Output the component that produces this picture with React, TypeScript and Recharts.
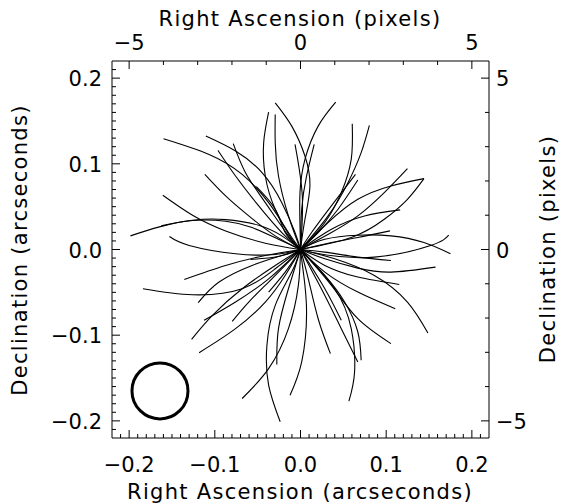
import React from 'react';
import { LineChart, Line, XAxis, YAxis, ReferenceDot } from 'recharts';

// curve points in arcseconds, ordered from the centre outwards (centre added below)
const upperLeft: number[][][] = [
  [[-0.0218, 0.0159], [-0.0488, 0.0283], [-0.0874, 0.0349], [-0.126, 0.0342], [-0.1646, 0.0264], [-0.1985, 0.0159]],
  [[-0.0257, 0.012], [-0.0565, 0.0256], [-0.0874, 0.033], [-0.126, 0.0338], [-0.1626, 0.0276]],
  [[-0.0295, -0.0058], [-0.0758, -0.005], [-0.1299, 0.0047], [-0.153, 0.0151]],
  [[-0.026, -0.0082], [-0.0584, -0.0116]],
  [[-0.0411, 0.0074], [-0.0874, 0.0217], [-0.126, 0.04], [-0.1607, 0.0633]],
  [[-0.0295, 0.0159], [-0.0604, 0.0392], [-0.0874, 0.0625], [-0.1117, 0.0877]],
  [[-0.0141, 0.0198], [-0.0372, 0.0547], [-0.0681, 0.0877], [-0.1067, 0.111], [-0.1599, 0.1293]],
  [[-0.0064, 0.0198], [-0.0218, 0.0547], [-0.0449, 0.0897], [-0.0758, 0.1149], [-0.1105, 0.1324]],
  [[-0.0218, 0.0198], [-0.0488, 0.0509], [-0.0758, 0.0858], [-0.0963, 0.1157]],
  [[-0.0141, 0.0159], [-0.0411, 0.0547], [-0.0642, 0.0897], [-0.0785, 0.1235]],
  [[-0.0179, 0.0198], [-0.0295, 0.047], [-0.0515, 0.0734]],
  [[-0.0102, 0.012], [-0.0295, 0.047], [-0.0411, 0.0858], [-0.043, 0.1246], [-0.0372, 0.1604]],
  [[-0.0141, 0.0392], [-0.0257, 0.0858], [-0.0295, 0.1246], [-0.0295, 0.1576]],
  [[0.0052, 0.0353], [0.011, 0.0742], [0.0052, 0.1091], [-0.0102, 0.144], [-0.0295, 0.1712]],
  [[0.0021, 0.0625], [-0.0064, 0.1227]],
];

const upperRight: number[][][] = [
  [[0.0014, 0.047], [0.0071, 0.0858], [0.016, 0.1227]],
  [[-0.0006, 0.0276], [-0.0006, 0.0664], [0.0052, 0.1052], [0.0206, 0.144], [0.0411, 0.172]],
  [[0.0284, 0.0315], [0.0476, 0.0664], [0.0592, 0.1052], [0.0604, 0.1468]],
  [[0.0322, 0.0392], [0.0554, 0.078], [0.0708, 0.113], [0.0804, 0.1448]],
  [[0.0129, 0.0198], [0.036, 0.0509], [0.0642, 0.0877]],
  [[0.0206, 0.0198], [0.0438, 0.047], [0.0669, 0.0811]],
  [[0.0361, 0.0198], [0.0669, 0.0392], [0.0978, 0.0664], [0.1248, 0.0943]],
  [[0.0322, 0.0315], [0.0669, 0.0586], [0.1055, 0.0742], [0.1441, 0.0827]],
  [[0.0592, 0.014], [0.0978, 0.0353], [0.1248, 0.0586], [0.1441, 0.0827]],
  [[0.0361, 0.0237], [0.0747, 0.0392], [0.1163, 0.0462]],
  [[0.0361, 0.0082], [0.0669, 0.014], [0.1044, 0.0217]],
  [[0.0284, 0.012], [0.0669, 0.0167], [0.1055, 0.0159], [0.1441, 0.0082], [0.175, -0.005]],
  [[0.0284, -0.0062], [0.0862, -0.0089], [0.1518, 0.0047], [0.173, 0.0167]],
];

const lowerRight: number[][][] = [
  [[0.0284, -0.0031], [0.0669, -0.0089], [0.1055, -0.0128]],
  [[0.0284, -0.0109], [0.0669, -0.0217], [0.1055, -0.0264], [0.1576, -0.0206]],
  [[0.0284, -0.0186], [0.0669, -0.0322], [0.1152, -0.0408]],
  [[0.0284, -0.0264], [0.0669, -0.0497], [0.1106, -0.0691]],
  [[0.0399, -0.0109], [0.0862, -0.0303], [0.1248, -0.0613], [0.1487, -0.0975]],
  [[0.0361, -0.0419], [0.0669, -0.0808], [0.1055, -0.1099]],
  [[0.0284, -0.0458], [0.0476, -0.0827]],
  [[0.0091, -0.0342], [0.0206, -0.0808], [0.0349, -0.1215]],
  [[0.0284, -0.0536], [0.0476, -0.0924], [0.0669, -0.1312]],
  [[0.0284, -0.0303], [0.0515, -0.0613], [0.0669, -0.0963], [0.0708, -0.1293]],
  [[0.0399, -0.0458], [0.0592, -0.0924], [0.0631, -0.1429], [0.0565, -0.177]],
  [[0.0033, -0.0264], [0.0071, -0.073], [0.0014, -0.1312], [-0.0122, -0.1701]],
];

const lowerLeft: number[][][] = [
  [[-0.0102, -0.0264], [-0.0295, -0.0652], [-0.0392, -0.1118], [-0.0372, -0.1584], [-0.0237, -0.2011]],
  [[-0.0141, -0.0458], [-0.0257, -0.0924], [-0.0276, -0.1343]],
  [[-0.0025, -0.0419], [-0.0141, -0.0924], [-0.0372, -0.139], [-0.0681, -0.1739]],
  [[-0.0179, -0.0264], [-0.0372, -0.0497]],
  [[-0.0334, -0.0342], [-0.0604, -0.0613], [-0.0797, -0.0839]],
  [[-0.0372, -0.0342], [-0.0758, -0.0613], [-0.1125, -0.0827]],
  [[-0.0179, -0.0303], [-0.0411, -0.0613], [-0.0758, -0.0924], [-0.1183, -0.1204]],
  [[-0.0295, -0.0186], [-0.0681, -0.0458], [-0.1028, -0.0769], [-0.1271, -0.1048]],
  [[-0.0218, -0.007], [-0.0565, -0.0186], [-0.0951, -0.038], [-0.1194, -0.0621]],
  [[-0.0411, -0.007], [-0.0874, -0.0186], [-0.1356, -0.0349]],
  [[-0.0295, -0.0225], [-0.0681, -0.0458], [-0.126, -0.0528], [-0.1839, -0.0458]],
];

// beam circle (arcsec centre)
const beam = { x: -0.164, y: -0.165 };

const arcTicks: number[] = [];
for (let i = -21; i <= 21; i++) arcTicks.push(i / 100);
const pixTicks = [-5, -4, -3, -2, -1, 0, 1, 2, 3, 4, 5];
// invisible span that keeps the pixel axes alive
const pixSpan = [{ px: -5.5, py: -5.5 }, { px: 5.5, py: 5.5 }];

const font = 'DejaVu Sans';
const fmtArc = (v: number) => v.toFixed(1).replace('-', '\u2212');
const fmtPix = (v: number) => String(v).replace('-', '\u2212');
const isMajorArc = (v: number) => Math.round(v * 100) % 10 === 0;
const isMajorPix = (v: number) => v % 5 === 0;

const curves = [...upperLeft, ...upperRight, ...lowerRight, ...lowerLeft].map((c) =>
  [[0, 0], ...c].map(([x, y]) => ({ x, y }))
);

const BottomTick = (p: any) => {
  const major = isMajorArc(p.payload.value);
  return (
    <g>
      <line x1={p.x} x2={p.x} y1={p.y} y2={p.y - (major ? 8 : 4)} stroke="#000" />
      {major && (
        <text x={p.x} y={p.y + 34} textAnchor="middle" fontFamily={font} fontSize={21} fill="#000">
          {fmtArc(p.payload.value)}
        </text>
      )}
    </g>
  );
};

const LeftTick = (p: any) => {
  const major = isMajorArc(p.payload.value);
  return (
    <g>
      <line x1={p.x} x2={p.x + (major ? 8 : 4)} y1={p.y} y2={p.y} stroke="#000" />
      {major && (
        <text x={p.x - 10} y={p.y + 8} textAnchor="end" fontFamily={font} fontSize={21} fill="#000">
          {fmtArc(p.payload.value)}
        </text>
      )}
    </g>
  );
};

const TopTick = (p: any) => {
  const major = isMajorPix(p.payload.value);
  return (
    <g>
      <line x1={p.x} x2={p.x} y1={p.y} y2={p.y + (major ? 8 : 4)} stroke="#000" />
      {major && (
        <text x={p.x} y={p.y - 11} textAnchor="middle" fontFamily={font} fontSize={21} fill="#000">
          {fmtPix(p.payload.value)}
        </text>
      )}
    </g>
  );
};

const RightTick = (p: any) => {
  const major = isMajorPix(p.payload.value);
  return (
    <g>
      <line x1={p.x} x2={p.x - (major ? 8 : 4)} y1={p.y} y2={p.y} stroke="#000" />
      {major && (
        <text x={p.x + 7} y={p.y + 8} textAnchor="start" fontFamily={font} fontSize={21} fill="#000">
          {fmtPix(p.payload.value)}
        </text>
      )}
    </g>
  );
};

const titleStyle = { fontFamily: font, fontSize: 21, fill: '#000', letterSpacing: 1.3 };

export default function App() {
  return (
    <div style={{ position: 'absolute', left: 0, top: 0, width: 561, height: 504, background: '#fff' }}>
      <LineChart width={561} height={504} margin={{ top: 31, right: 32, bottom: 36, left: 72 }}>
        <XAxis
          xAxisId="ra"
          dataKey="x"
          type="number"
          orientation="bottom"
          domain={[-0.22, 0.22]}
          allowDataOverflow
          ticks={arcTicks}
          interval={0}
          height={30}
          tickSize={0}
          tickMargin={0}
          tickLine={false}
          axisLine={{ stroke: '#000' }}
          tick={BottomTick}
        />
        <XAxis
          xAxisId="px"
          dataKey="px"
          type="number"
          orientation="top"
          domain={[-5.5, 5.5]}
          allowDataOverflow
          ticks={pixTicks}
          interval={0}
          height={30}
          tickSize={0}
          tickMargin={0}
          tickLine={false}
          axisLine={{ stroke: '#000' }}
          tick={TopTick}
        />
        <YAxis
          yAxisId="dec"
          type="number"
          orientation="left"
          domain={[-0.22, 0.22]}
          allowDataOverflow
          ticks={arcTicks}
          interval={0}
          width={40}
          tickSize={0}
          tickMargin={0}
          tickLine={false}
          axisLine={{ stroke: '#000' }}
          tick={LeftTick}
        />
        <YAxis
          yAxisId="py"
          type="number"
          orientation="right"
          domain={[-5.5, 5.5]}
          allowDataOverflow
          ticks={pixTicks}
          interval={0}
          width={40}
          tickSize={0}
          tickMargin={0}
          tickLine={false}
          axisLine={{ stroke: '#000' }}
          tick={RightTick}
        />
        <Line
          xAxisId="px"
          yAxisId="py"
          data={pixSpan}
          dataKey="py"
          stroke="none"
          dot={false}
          activeDot={false}
          isAnimationActive={false}
        />
        {curves.map((c, i) => (
          <Line
            key={i}
            xAxisId="ra"
            yAxisId="dec"
            data={c}
            dataKey="y"
            type="natural"
            stroke="#000"
            strokeWidth={1.1}
            dot={false}
            activeDot={false}
            isAnimationActive={false}
          />
        ))}
        <ReferenceDot
          xAxisId="ra"
          yAxisId="dec"
          x={beam.x}
          y={beam.y}
          r={28}
          fill="none"
          stroke="#000"
          strokeWidth={3}
        />
        <text x={300} y={26} textAnchor="middle" style={titleStyle}>Right Ascension (pixels)</text>
        <text x={300} y={499} textAnchor="middle" style={titleStyle}>Right Ascension (arcseconds)</text>
        <text x={27} y={250} textAnchor="middle" transform="rotate(-90 27 250)" style={titleStyle}>
          Declination (arcseconds)
        </text>
        <text x={555} y={249} textAnchor="middle" transform="rotate(-90 555 249)" style={titleStyle}>
          Declination (pixels)
        </text>
      </LineChart>
    </div>
  );
}
